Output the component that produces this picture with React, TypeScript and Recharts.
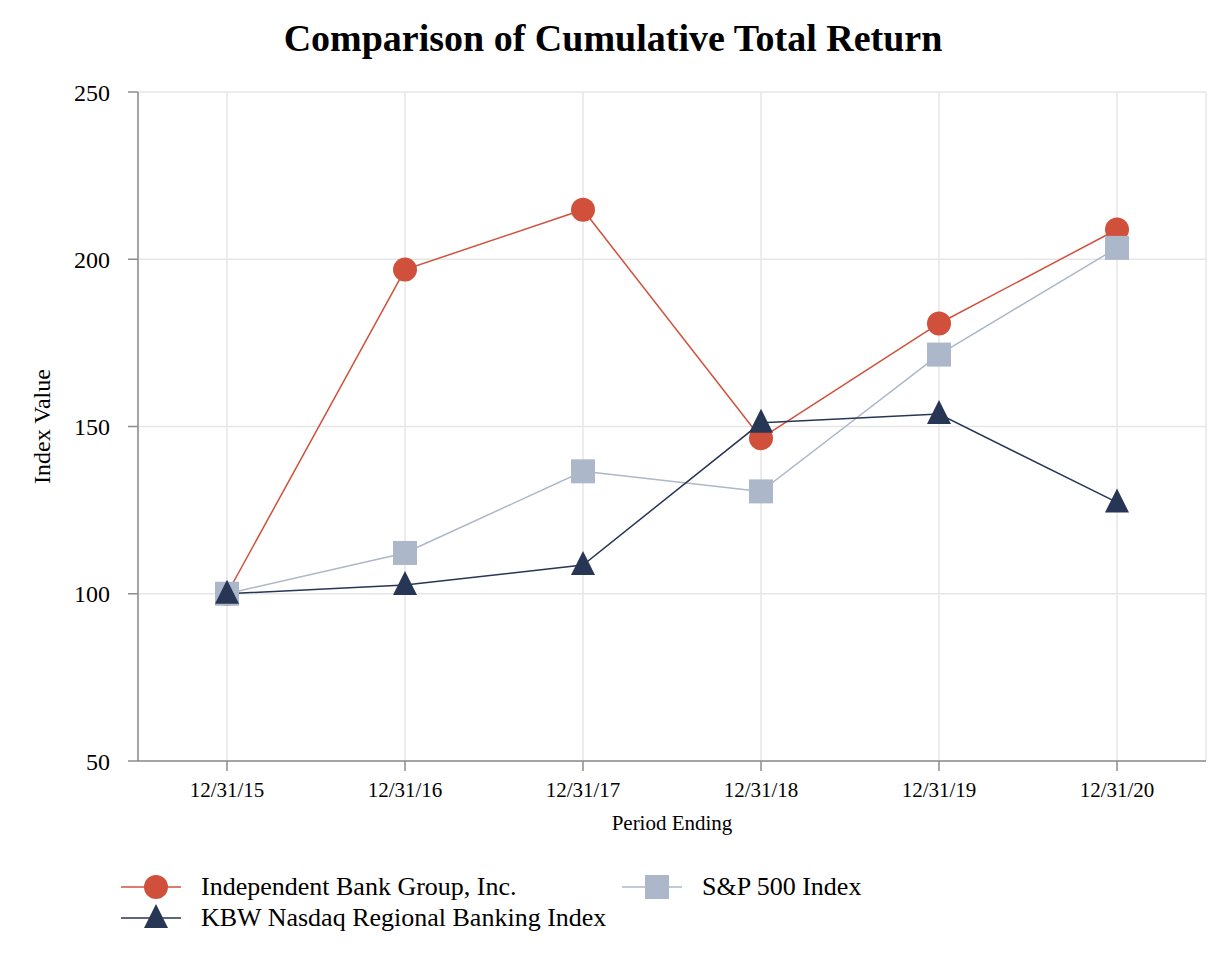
import * as React from 'react';
import { LineChart, Line, XAxis, YAxis, CartesianGrid } from 'recharts';

const periods = ['12/31/15', '12/31/16', '12/31/17', '12/31/18', '12/31/19', '12/31/20'];
const ibtx = [100, 196.9, 214.8, 146.5, 180.8, 208.9];
const sp500 = [100, 112.2, 136.6, 130.6, 171.5, 203.4];
const kbw = [100, 102.6, 108.6, 151.1, 153.7, 127.3];
const yTicks = [50, 100, 150, 200, 250];

const RED = '#D1503B';
const GREY = '#ACB7C9';
const NAVY = '#273654';
const FONT = '"Liberation Serif", "Times New Roman", serif';

const data = periods.map((p, i) => ({ period: p, ibtx: ibtx[i], sp500: sp500[i], kbw: kbw[i] }));

const Circle = ({ cx, cy, fill, r = 12 }: any) => <circle cx={cx} cy={cy} r={r} fill={fill} />;
const Square = ({ cx, cy, fill, s = 24 }: any) => <rect x={cx - s / 2} y={cy - s / 2} width={s} height={s} fill={fill} />;
const Triangle = ({ cx, cy, fill, s = 24 }: any) => (
  <polygon points={`${cx},${cy - s / 2 - 2} ${cx - s / 2},${cy + s / 2 - 2} ${cx + s / 2},${cy + s / 2 - 2}`} fill={fill} />
);

const series = [
  { key: 'ibtx', name: 'Independent Bank Group, Inc.', color: RED, Marker: Circle },
  { key: 'sp500', name: 'S&P 500 Index', color: GREY, Marker: Square },
  { key: 'kbw', name: 'KBW Nasdaq Regional Banking Index', color: NAVY, Marker: Triangle },
];

function LegendItem({ s, left, top }: any) {
  const M = s.Marker;
  return (
    <div style={{ position: 'absolute', left, top, display: 'flex', alignItems: 'center', height: 30 }}>
      <svg width={70} height={30}>
        <line x1={0} x2={60} y1={15} y2={15} stroke={s.color} strokeWidth={1.5} />
        <M cx={35} cy={15} fill={s.color} />
      </svg>
      <span style={{ fontFamily: FONT, fontSize: 26, color: '#000', marginLeft: 10, whiteSpace: 'nowrap' }}>{s.name}</span>
    </div>
  );
}

export default function App() {
  React.useEffect(() => {
    document.body.style.margin = '0';
  }, []);

  return (
    <div style={{ position: 'relative', width: 1226, height: 960, background: '#fff', fontFamily: FONT }}>
      <div
        style={{
          position: 'absolute', top: 15, left: 0, width: 1226, textAlign: 'center',
          fontSize: 38, fontWeight: 'bold', color: '#000', lineHeight: '46px',
        }}
      >
        Comparison of Cumulative Total Return
      </div>
      <LineChart width={1226} height={960} data={data} margin={{ top: 92, right: 20, bottom: 0, left: 0 }}>
        <CartesianGrid stroke="#e6e6e6" strokeWidth={1.5} />
        <XAxis
          dataKey="period"
          padding={{ left: 89, right: 89 }}
          height={199}
          stroke="#8c8c8c"
          strokeWidth={1.5}
          tickSize={10}
          tick={{ fill: '#000', fontSize: 21, fontFamily: FONT }}
          tickMargin={11}
          label={{ value: 'Period Ending', position: 'insideTop', offset: 54, fill: '#000', fontSize: 21, fontFamily: FONT }}
        />
        <YAxis
          domain={[50, 250]}
          ticks={yTicks}
          width={138}
          stroke="#8c8c8c"
          strokeWidth={1.5}
          tickSize={10}
          tickMargin={18}
          tick={{ fill: '#000', fontSize: 24, fontFamily: FONT }}
          label={(props: any) => {
            const vb = props.viewBox || { x: 0, y: 92, width: 138, height: 669 };
            const x = vb.x + 50;
            const y = vb.y + vb.height / 2;
            return (
              <text x={x} y={y} transform={`rotate(-90 ${x} ${y})`} textAnchor="middle" fontSize={24} fontFamily={FONT} fill="#000">
                Index Value
              </text>
            );
          }}
        />
        {series.map((s) => {
          const M = s.Marker;
          return (
            <Line
              key={s.key}
              type="linear"
              dataKey={s.key}
              name={s.name}
              stroke={s.color}
              strokeWidth={1.5}
              isAnimationActive={false}
              dot={(p: any) => <M key={`${s.key}-${p.index}`} cx={p.cx} cy={p.cy} fill={s.color} />}
              activeDot={false}
            />
          );
        })}
      </LineChart>
      <LegendItem s={series[0]} left={121} top={872} />
      <LegendItem s={series[1]} left={622} top={872} />
      <LegendItem s={series[2]} left={121} top={903} />
    </div>
  );
}
